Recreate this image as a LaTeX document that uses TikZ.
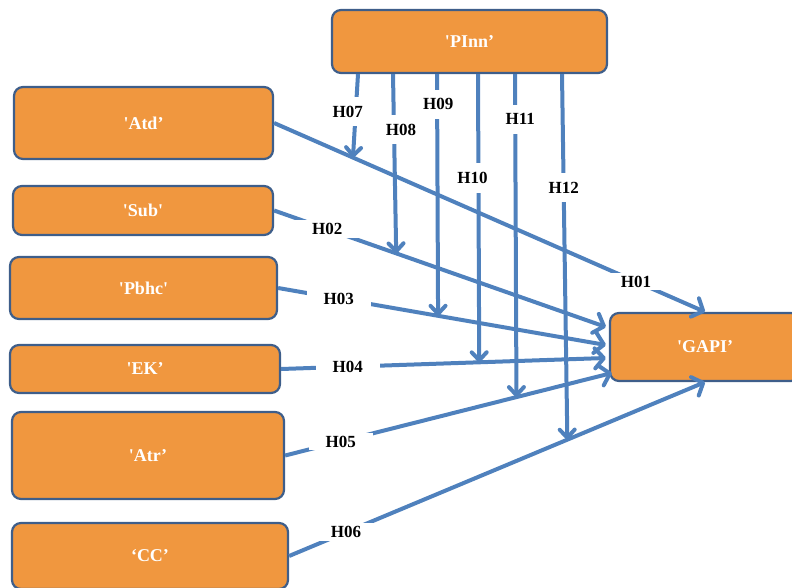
\documentclass[tikz,border=0pt]{standalone}
\usepackage{fontspec}
\setmainfont{Liberation Serif}
\usetikzlibrary{calc,arrows.meta}
\definecolor{boxfill}{RGB}{240,151,63}
\definecolor{boxline}{RGB}{62,94,138}
\definecolor{arrblue}{RGB}{79,129,189}

\begin{document}
\begin{tikzpicture}[x=1pt, y=-1pt,
		box/.style={draw=boxline, line width=2.2pt, fill=boxfill, rounded corners=9pt, text=white, font=\fontsize{18}{20}\selectfont\bfseries, inner sep=0pt},
		arr/.style={draw=arrblue, line width=4pt, -{Straight Barb[length=9pt, width=20pt, round]}},
		varr/.style={arr, -{Straight Barb[length=8pt, width=15pt, round]}},
		hlab/.style={fill=white, text=black, font=\fontsize{17}{19}\selectfont\bfseries, inner xsep=17pt, inner ysep=3pt},
		vlab/.style={fill=white, text=black, font=\fontsize{17}{19}\selectfont\bfseries, inner xsep=1pt, inner ysep=9pt}]
			%%%%% START %%%%%
			
			\useasboundingbox (0, 0) rectangle (792, 588);
			
			\node[box, minimum width=275pt, minimum height=63pt] (pinn) at (469.5, 41.5) {\textquotesingle PInn’};
			
			\node[box, minimum width=259pt, minimum height=72pt] (atd) at (143.5, 123) {\textquotesingle Atd’};
			\node[box, minimum width=260pt, minimum height=49pt] (sub) at (143, 210.5) {\textquotesingle Sub\textquotesingle};
			\node[box, minimum width=267pt, minimum height=62pt] (pbhc) at (143.5, 288) {\textquotesingle Pbhc\textquotesingle};
			\node[box, minimum width=270pt, minimum height=48pt] (ek) at (145, 369) {\textquotesingle EK’};
			\node[box, minimum width=272pt, minimum height=87pt] (atr) at (148, 455.5) {\textquotesingle Atr’};
			\node[box, minimum width=276pt, minimum height=66pt] (cc) at (150, 556) {‘CC’};
			
			\node[box, minimum width=190pt, minimum height=68pt] (gapi) at (705, 347) {\textquotesingle GAPI’};
			
			\coordinate (g2) at ($(gapi.west)+(-3, -20)$);
			\coordinate (g3) at ($(gapi.west)+(-3, -2)$);
			\coordinate (g4) at ($(gapi.west)+(-3, 11)$);
			\coordinate (g5) at ($(gapi.west)+(3, 26)$);
			
			\draw[arr] (atd.east) -- coordinate[pos=0.183] (t7) node[hlab, pos=0.84] {H01} (gapi.north);
			\draw[arr] (sub.east) -- coordinate[pos=0.368] (t8) node[hlab, pos=0.16] {H02} (g2);
			\draw[arr] (pbhc.east) -- coordinate[pos=0.488] (t9) node[hlab, pos=0.185] {H03} (g3);
			\draw[arr] (ek.east) -- coordinate[pos=0.61] (t10) node[hlab, pos=0.205] {H04} (g4);
			\draw[arr] (atr.east) -- coordinate[pos=0.708] (t11) node[hlab, pos=0.17] {H05} (g5);
			\draw[arr] (cc.east) -- coordinate[pos=0.669] (t12) node[hlab, pos=0.137] {H06} (gapi.south);
			
			\foreach \i/\dx in {7/-111.5, 8/-76.5, 9/-32.5, 10/8.5, 11/45.5, 12/92.5}
				\coordinate (p\i) at ($(pinn.south)+(\dx, 0)$);
			
			\draw[varr] (p7) -- node[vlab, pos=0.45, xshift=-8pt] {H07} (t7);
			\draw[varr] (p8) -- node[vlab, pos=0.31, xshift=7pt] {H08} (t8);
			\draw[varr] (p9) -- node[vlab, pos=0.125, xshift=1pt] {H09} (t9);
			\draw[varr] (p10) -- node[vlab, pos=0.36, xshift=-6pt] {H10} (t10);
			\draw[varr] (p11) -- node[vlab, pos=0.14, xshift=5pt] {H11} (t11);
			\draw[varr] (p12) -- node[vlab, pos=0.31] {H12} (t12);
			
			%%%%% END %%%%%
		\end{tikzpicture}
\end{document}
